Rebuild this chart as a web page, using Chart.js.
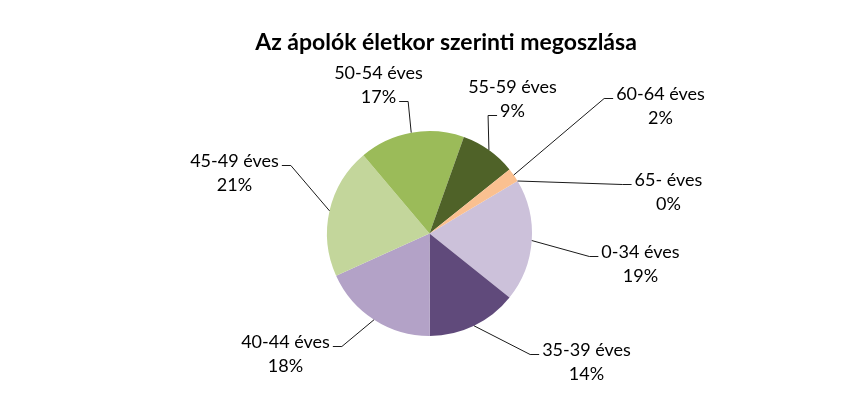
<!DOCTYPE html>
<html>
<head>
<meta charset="utf-8">
<script src="https://cdn.jsdelivr.net/npm/chart.js@4.4.0/dist/chart.umd.min.js"></script>
<style>
  body { margin: 0; background: #fff; }
  #wrap { width: 856px; height: 402px; }
</style>
</head>
<body>
<div id="wrap"><canvas id="ages"></canvas></div>
<script>
// Age distribution of nurses
const ageGroups = ['0-34 éves', '35-39 éves', '40-44 éves', '45-49 éves', '50-54 éves', '55-59 éves', '60-64 éves', '65- éves'];
const shares = [19.3, 14.2, 18.3, 20.6, 16.6, 8.8, 2.2, 0];
const sliceColors = ['#CCC1DA', '#604A7B', '#B3A2C7', '#C3D69B', '#9BBB59', '#4F6228', '#FAC090', '#F79646'];
const chartTitle = 'Az ápolók életkor szerinti megoszlása';

// where each label block sits, offset from the pie centre (px)
const labelSpots = [[211, 31], [157, 129], [-144, 121], [-195, -60], [-51, -148], [83, -134], [231, -127], [239, -41]];
const labelFont = '18px Lato';
const lineGap = 24;

// data labels with leader lines, Excel style
const pieLabels = {
    id: 'pieLabels',
    afterDatasetsDraw(chart) {
        const ctx = chart.ctx;
        const meta = chart.getDatasetMeta(0);
        const total = shares.reduce((a, b) => a + b, 0);
        ctx.save();
        ctx.font = labelFont;
        ctx.textAlign = 'center';
        ctx.textBaseline = 'middle';
        meta.data.forEach((arc, i) => {
            const p = arc.getProps(['x', 'y', 'startAngle', 'endAngle', 'outerRadius'], true);
            const mid = (p.startAngle + p.endAngle) / 2;
            const ax = p.x + Math.cos(mid) * p.outerRadius;
            const ay = p.y + Math.sin(mid) * p.outerRadius;
            const cx = p.x + labelSpots[i][0];
            const cy = p.y + labelSpots[i][1];
            const lines = [ageGroups[i], Math.round(shares[i] / total * 100) + '%'];

            // pick the text line whose side is nearest to the anchor
            let best = null;
            lines.forEach((t, j) => {
                const w = ctx.measureText(t).width;
                const y = cy + (j - 0.5) * lineGap;
                const left = cx - w / 2, right = cx + w / 2;
                let gap = -1, side = 0;
                if (ax < left) { gap = left - ax; side = -1; }
                else if (ax > right) { gap = ax - right; side = 1; }
                if (gap >= 0 && (best === null || gap < best.gap)) {
                    best = { gap, side, y, left, right };
                }
            });
            if (best) {
                const ey = best.y + 4;
                const ex = best.side < 0 ? best.left - 3 : best.right + 3;
                const bx = ex + best.side * 9;
                ctx.strokeStyle = '#1a1a1a';
                ctx.lineWidth = 1;
                ctx.beginPath();
                ctx.moveTo(ax, ay);
                ctx.lineTo(bx, ey);
                ctx.lineTo(ex, ey);
                ctx.stroke();
            }

            ctx.fillStyle = '#000';
            lines.forEach((t, j) => ctx.fillText(t, cx, cy + (j - 0.5) * lineGap));
        });
        ctx.restore();
    }
};

const titleDraw = {
    id: 'titleDraw',
    afterDraw(chart) {
        const ctx = chart.ctx;
        ctx.save();
        ctx.font = 'bold 23px Lato';
        ctx.fillStyle = '#000';
        ctx.textAlign = 'center';
        ctx.textBaseline = 'middle';
        ctx.fillText(chartTitle, 446, 43);
        ctx.restore();
    }
};

const ctx = document.getElementById('ages');
const agesChart = new Chart(ctx, {
    type: 'pie',
    data: {
        labels: ageGroups,
        datasets: [{
            data: shares,
            backgroundColor: sliceColors,
            borderWidth: 0
        }]
    },
    options: {
        responsive: true,
        maintainAspectRatio: false,
        animation: false,
        rotation: 59.2,
        layout: {
            padding: { left: 3, right: 0, top: 131, bottom: 66 }
        },
        plugins: {
            legend: { display: false },
            tooltip: { enabled: false }
        }
    },
    plugins: [pieLabels, titleDraw]
});
</script>
</body>
</html>
